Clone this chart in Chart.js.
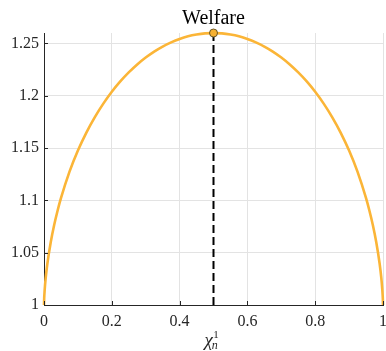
<!DOCTYPE html>
<html><head><meta charset="utf-8">
<script src="https://cdn.jsdelivr.net/npm/chart.js@4/dist/chart.umd.min.js"></script>
<style>html,body{margin:0;padding:0;background:#fff}canvas{display:block}</style>
</head><body>
<canvas id="c" width="386" height="351"></canvas>
<script>
const chiValues = [0, 0.0005, 0.001, 0.002, 0.005, 0.01, 0.02, 0.03, 0.04, 0.05, 0.075, 0.1, 0.125, 0.15, 0.175, 0.2,
  0.225, 0.25, 0.275, 0.3, 0.325, 0.35, 0.375, 0.4, 0.425, 0.45, 0.475, 0.5,
  0.525, 0.55, 0.575, 0.6, 0.625, 0.65, 0.675, 0.7, 0.725, 0.75, 0.775, 0.8,
  0.825, 0.85, 0.875, 0.9, 0.925, 0.95, 0.96, 0.97, 0.98, 0.99, 0.995, 0.998, 0.999, 0.9995, 1];
const welfareValues = [1, 1.0060, 1.0093, 1.0145, 1.0259, 1.0397, 1.0603, 1.0765, 1.0901, 1.1021, 1.1272, 1.1476, 1.1648, 1.1796, 1.1925, 1.2038,
  1.2137, 1.2223, 1.2299, 1.2365, 1.2422, 1.2470, 1.2510, 1.2543, 1.2568, 1.2585, 1.2596, 1.2599,
  1.2596, 1.2585, 1.2568, 1.2543, 1.2510, 1.2470, 1.2422, 1.2365, 1.2299, 1.2223, 1.2137, 1.2038,
  1.1925, 1.1796, 1.1648, 1.1476, 1.1272, 1.1021, 1.0901, 1.0765, 1.0603, 1.0397, 1.0259, 1.0145, 1.0093, 1.0060, 1];
const peakX = [0.5];
const peakY = [1.26];
const guideX = [0.5, 0.5];
const guideY = [1, 1.26];
const xTickValues = [0, 0.2, 0.4, 0.6, 0.8, 1];
const yTickValues = [1, 1.05, 1.1, 1.15, 1.2, 1.25];
const titleText = 'Welfare';

const toPts = (xs, ys) => xs.map((x, i) => ({x: x, y: ys[i]}));
const fmt = v => String(Number(v.toFixed(2)));
const AXIS = '#262626';
const SERIF = "'Liberation Serif', 'Times New Roman', serif";

const overlay = {
  id: 'overlay',
  afterDraw(chart) {
    const ctx = chart.ctx, a = chart.chartArea, xs = chart.scales.x, ys = chart.scales.y;
    ctx.save();
    ctx.strokeStyle = AXIS; ctx.lineWidth = 1;
    ctx.beginPath();
    xTickValues.forEach(v => { const px = Math.round(xs.getPixelForValue(v)) + 0.5; ctx.moveTo(px, a.bottom); ctx.lineTo(px, a.bottom - 4); });
    yTickValues.forEach(v => { const py = Math.round(ys.getPixelForValue(v)) + 0.5; ctx.moveTo(a.left, py); ctx.lineTo(a.left + 4, py); });
    ctx.stroke();
    ctx.fillStyle = '#000';
    ctx.font = '20px ' + SERIF;
    ctx.textAlign = 'center'; ctx.textBaseline = 'alphabetic';
    ctx.fillText(titleText, (a.left + a.right) / 2, 24);
    const cx = (a.left + a.right) / 2;
    ctx.fillStyle = AXIS;
    ctx.textAlign = 'left';
    ctx.font = 'italic 19px ' + SERIF;
    const chiW = ctx.measureText('χ').width;
    const x0 = cx - 9;
    ctx.fillText('χ', x0, 346);
    ctx.font = '11px ' + SERIF;
    ctx.fillText('1', x0 + chiW + 0.5, 338);
    ctx.font = 'italic 12px ' + SERIF;
    ctx.fillText('n', x0 + chiW - 1, 349);
    ctx.restore();
  }
};

new Chart(document.getElementById('c'), {
  type: 'scatter',
  data: {
    datasets: [
      { data: toPts(guideX, guideY), showLine: true, borderColor: '#000', borderWidth: 2, borderDash: [8, 4],
        pointRadius: 0, order: 3, clip: false },
      { data: toPts(chiValues, welfareValues), showLine: true, borderColor: '#FBB537', borderWidth: 2.6,
        pointRadius: 0, cubicInterpolationMode: 'monotone', order: 2, clip: false },
      { data: toPts(peakX, peakY), showLine: false, pointRadius: 4, pointBackgroundColor: '#F6B132',
        pointBorderColor: '#6a5828', pointBorderWidth: 1, order: 1, clip: false }
    ]
  },
  options: {
    responsive: false, animation: false, devicePixelRatio: 1,
    layout: { autoPadding: false, padding: { left: 0, right: 3, top: 33, bottom: 0 } },
    plugins: { legend: { display: false }, tooltip: { enabled: false }, title: { display: false } },
    scales: {
      x: {
        type: 'linear', min: 0, max: 1,
        afterBuildTicks: s => { s.ticks = xTickValues.map(v => ({value: v})); },
        afterFit: s => { s.height = 46; s.paddingLeft = 0; s.paddingRight = 0; },
        grid: { color: '#e3e3e3', lineWidth: 1, drawTicks: false },
        border: { display: true, color: AXIS, width: 1 },
        ticks: { padding: 7, color: AXIS, font: { family: SERIF, size: 16 }, callback: v => fmt(v), maxRotation: 0 }
      },
      y: {
        type: 'linear', min: 1, max: 1.26,
        afterBuildTicks: s => { s.ticks = yTickValues.map(v => ({value: v})); },
        afterFit: s => { s.width = 44; s.paddingTop = 0; s.paddingBottom = 0; },
        grid: { color: '#e3e3e3', lineWidth: 1, drawTicks: false },
        border: { display: true, color: AXIS, width: 1 },
        ticks: { padding: 5, color: AXIS, font: { family: SERIF, size: 16 }, callback: v => fmt(v) }
      }
    }
  },
  plugins: [overlay]
});
</script>
</body></html>
